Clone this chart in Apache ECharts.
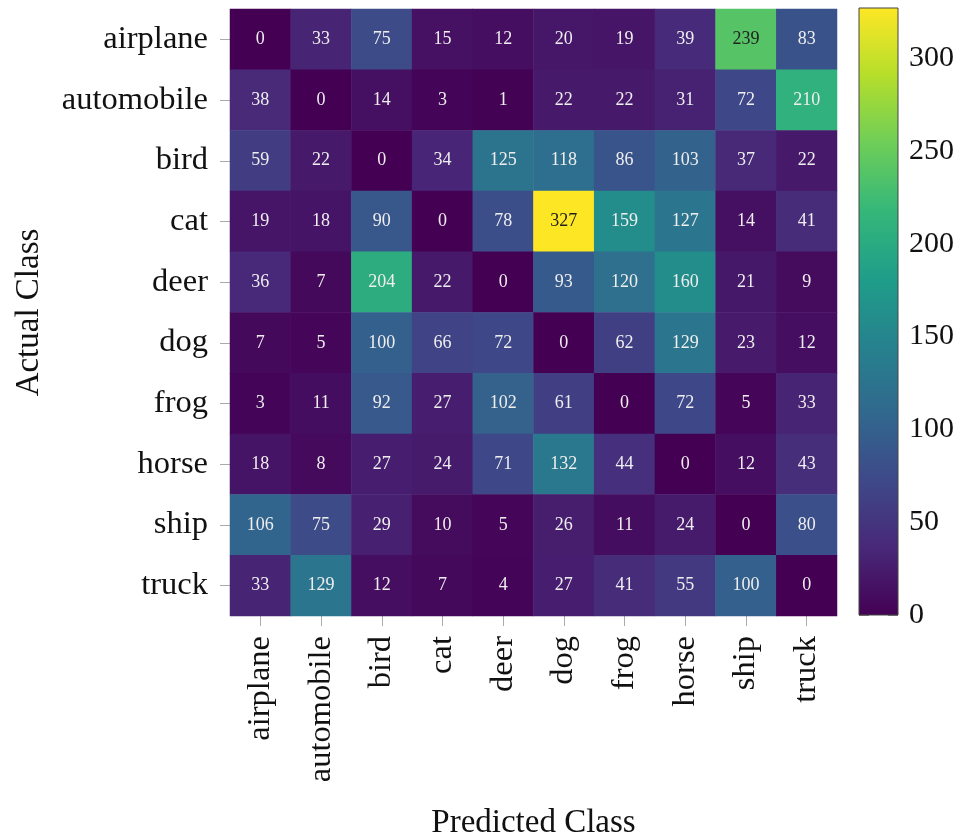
<!DOCTYPE html>
<html><head><meta charset="utf-8">
<script src="https://cdn.jsdelivr.net/npm/echarts@6/dist/echarts.min.js"></script>
<style>html,body{margin:0;padding:0;background:#fff}#c{width:960px;height:839px}</style>
</head><body><div id="c"></div>
<script>
const classes = ['airplane','automobile','bird','cat','deer','dog','frog','horse','ship','truck'];
const row_airplane   = [0,33,75,15,12,20,19,39,239,83];
const row_automobile = [38,0,14,3,1,22,22,31,72,210];
const row_bird       = [59,22,0,34,125,118,86,103,37,22];
const row_cat        = [19,18,90,0,78,327,159,127,14,41];
const row_deer       = [36,7,204,22,0,93,120,160,21,9];
const row_dog        = [7,5,100,66,72,0,62,129,23,12];
const row_frog       = [3,11,92,27,102,61,0,72,5,33];
const row_horse      = [18,8,27,24,71,132,44,0,12,43];
const row_ship       = [106,75,29,10,5,26,11,24,0,80];
const row_truck      = [33,129,12,7,4,27,41,55,100,0];
const colorbarTicks  = [0,50,100,150,200,250,300];

const rows = [row_airplane,row_automobile,row_bird,row_cat,row_deer,row_dog,row_frog,row_horse,row_ship,row_truck];
const viridis = ['#440154','#482878','#3e4989','#31688e','#26828e','#1f9e89','#35b779','#6ece58','#b5de2b','#fde725'];
const FONT = 'Liberation Serif';
let vmax = 0;
rows.forEach(r => r.forEach(v => { if (v > vmax) vmax = v; }));
const data = [];
rows.forEach((r, yi) => r.forEach((v, xi) => {
  data.push({ value: [xi, yi, v], label: { color: v > 0.7 * vmax ? '#222' : '#eeeeee' } });
}));

const chart = echarts.init(document.getElementById('c'), null, { renderer: 'canvas' });
chart.setOption({
  animation: false,
  grid: [
    { left: 230, top: 9, width: 607, height: 607, containLabel: false, outerBoundsMode: 'none' },
    { left: 859, top: 8, width: 39, height: 607, containLabel: false, outerBoundsMode: 'none',
      show: true, borderColor: '#444', borderWidth: 1, backgroundColor: 'transparent', z: 5 }
  ],
  xAxis: [
    { type: 'category', gridIndex: 0, data: classes, name: 'Predicted Class', nameLocation: 'middle', nameGap: 191,
      nameTextStyle: { fontFamily: FONT, fontSize: 33, color: '#111' },
      axisLine: { show: false }, axisTick: { show: true, alignWithLabel: true, length: 10, lineStyle: { color: '#aaa' } },
      splitLine: { show: false },
      axisLabel: { rotate: 90, margin: 20, fontFamily: FONT, fontSize: 32.5, color: '#111' } },
    { type: 'category', gridIndex: 1, data: ['cb'], show: false }
  ],
  yAxis: [
    { type: 'category', gridIndex: 0, data: classes, inverse: true, name: 'Actual Class', nameLocation: 'middle', nameGap: 184,
      nameRotate: 90,
      nameTextStyle: { fontFamily: FONT, fontSize: 33, color: '#111' },
      axisLine: { show: false }, axisTick: { show: true, alignWithLabel: true, length: 10, lineStyle: { color: '#aaa' } },
      splitLine: { show: false },
      axisLabel: { margin: 22, fontFamily: FONT, fontSize: 32.5, color: '#111' } },
    { type: 'value', gridIndex: 1, position: 'right', min: 0, max: vmax, interval: 50,
      axisLine: { show: false }, splitLine: { show: false },
      axisTick: { show: true, inside: true, length: 10, lineStyle: { color: '#888' } },
      axisLabel: { margin: 11, fontFamily: FONT, fontSize: 30, color: '#111', showMaxLabel: false,
        formatter: v => (colorbarTicks.indexOf(v) >= 0 ? String(v) : '') } },
    { type: 'value', gridIndex: 1, position: 'left', min: 0, max: vmax, interval: 50,
      axisLine: { show: false }, splitLine: { show: false },
      axisTick: { show: true, inside: true, length: 10, lineStyle: { color: '#888' } },
      axisLabel: { show: false } }
  ],
  visualMap: { show: false, seriesIndex: 0, min: 0, max: vmax, inRange: { color: viridis }, dimension: 2 },
  series: [
    { type: 'heatmap', xAxisIndex: 0, yAxisIndex: 0, data: data,
      label: { show: true, fontFamily: FONT, fontSize: 18 },
      itemStyle: { borderWidth: 0 } },
    { type: 'bar', xAxisIndex: 1, yAxisIndex: 1, data: [vmax], barWidth: '100%', z: 1,
      itemStyle: { color: new echarts.graphic.LinearGradient(0, 1, 0, 0,
        viridis.map((c, i) => ({ offset: i / (viridis.length - 1), color: c }))) } }
  ]
});
</script></body></html>
